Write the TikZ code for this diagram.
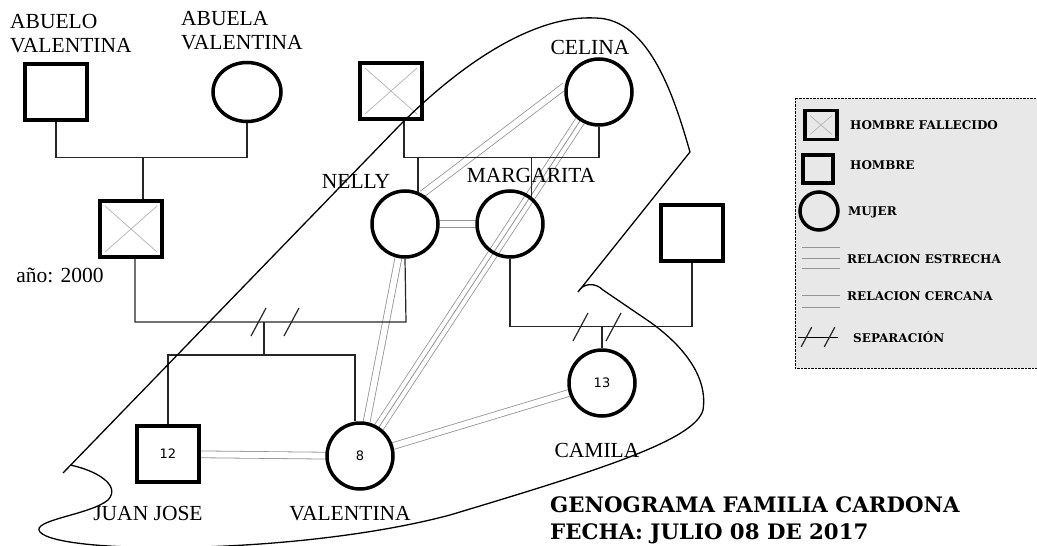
\documentclass[tikz,border=0pt]{standalone}
\usepackage{fontspec}
\setmainfont{Liberation Serif}
\newfontfamily\titulo{DejaVu Serif}
\newfontfamily\cifra{DejaVu Sans}
\usetikzlibrary{shapes.geometric,backgrounds}

\begin{document}
\begin{tikzpicture}[x=1pt,y=-1pt,
	hombre/.style={draw,rectangle,line width=3.5pt,inner sep=0,minimum width=62pt,minimum height=56pt},
	fallecido/.style={hombre,path picture={\draw[gray!55,line width=0.8pt] ([shift={(5pt,-5pt)}]path picture bounding box.north west) -- ([shift={(-5pt,5pt)}]path picture bounding box.south east) ([shift={(-5pt,-5pt)}]path picture bounding box.north east) -- ([shift={(5pt,5pt)}]path picture bounding box.south west);}},
	mujer/.style={draw,circle,line width=3.5pt,inner sep=0,minimum size=66pt},
	linea/.style={line width=1.2pt,black!85},
	gris/.style={draw=gray!85,line width=0.8pt},
	cercana/.style={gris,double=white,double distance=6pt},
	estrecha/.style={gris,double=white,double distance=9pt},
	nombre/.style={font=\fontsize{21.5}{24}\selectfont,inner sep=0},
	leyenda/.style={font=\titulo\bfseries\fontsize{12}{14}\selectfont,inner sep=0,anchor=west},
	sepmark/.pic={\draw[linea] (-24,14) -- (-9,-14); \draw[linea] (9,14) -- (24,-14);}]
	\useasboundingbox (0,0) rectangle (1037,546);
	\node[hombre] (1) at (56,92) {};
	\node[draw,ellipse,line width=3.5pt,inner sep=0,minimum width=68pt,minimum height=59pt] (2) at (247,92) {};
	\node[fallecido] (3) at (131,229) {};
	\node[fallecido] (4) at (391,91) {};
	\node[mujer] (5) at (599,92) {};
	\node[mujer] (6) at (405,224) {};
	\node[mujer] (7) at (510,224) {};
	\node[hombre] (8) at (692,233) {};
	\node[hombre] (9) at (168,454) {\cifra\fontsize{13}{15}\selectfont 12};
	\node[mujer] (10) at (360,456) {\cifra\fontsize{13}{15}\selectfont 8};
	\node[mujer] (11) at (602,383) {\cifra\fontsize{13}{15}\selectfont 13};
	\node[nombre,align=left,anchor=north west] (t1) at (10,14) {ABUELO\\VALENTINA};
	\node[nombre,align=left,anchor=north west] (t2) at (181,11) {ABUELA\\VALENTINA};
	\node[nombre] (t3) at (60,275) {año: 2000};
	\node[nombre] (t4) at (590,47) {CELINA};
	\node[nombre] (t5) at (356,181) {NELLY};
	\node[nombre] (t6) at (531,175) {MARGARITA};
	\node[nombre,anchor=base] (t7) at (148,520) {JUAN JOSE};
	\node[nombre,anchor=base] (t8) at (350,520) {VALENTINA};
	\node[nombre] (t9) at (597,450) {CAMILA};
	\draw[linea] (1.south) -- ++(0,36) -| (2.south);
	\draw[linea] ([xshift=12pt]3.north) -- ++(0,-42);
	\coordinate (p1) at (406,322);
	\coordinate (p2) at (264,322);
	\coordinate (p3) at (264,355);
	\draw[linea] ([xshift=4pt]3.south) |- (p1) -- (6.south);
	\draw[linea] (p2) -- (p3);
	\draw[linea] (9.north) |- (p3) -| ([xshift=-5pt]10.north);
	\pic at (275,322) {sepmark};
	\draw[linea] ([xshift=13pt]4.south) -- ++(0,37) -| (5.south);
	\draw[linea] (6.68) -- ++(0,-34);
	\draw[linea] (7.51) -- ++(0,-39);
	\draw[linea] (7.south) -- ++(0,68) -| (8.south);
	\draw[linea] (11.north) -- ++(0,-21);
	\pic at (597,327) {sepmark};
	\begin{scope}[on background layer]
		\draw[cercana] (9) -- (10);
		\draw[cercana] (6) -- (7);
		\draw[cercana] (5.170) -- (6.60);
		\draw[cercana] (10) -- (6);
		\draw[estrecha] (10) -- (5);
		\draw[gris] (10) -- (5);
		\draw[cercana] (10) -- (11);
	\end{scope}
	\draw[line width=1.3pt] (63,473) -- (400,125) .. controls (470,55) and (540,15) .. (595,18) .. controls (650,18) and (675,100) .. (690,152) -- (578,292) .. controls (583,283) and (595,282) .. (603,290) -- (650,322) .. controls (685,347) and (708,378) .. (703,410) .. controls (695,440) and (600,470) .. (450,515) .. controls (300,555) and (60,555) .. (40,532) .. controls (30,520) and (90,515) .. (108,500) .. controls (122,485) and (95,470) .. (70,465);
	\draw[densely dotted,fill=gray!18] (795,98) rectangle (1045,368);
	\node[fallecido,minimum width=32pt,minimum height=29pt] (l1) at (821,125) {};
	\node[hombre,minimum width=30pt,minimum height=28pt] (l2) at (818,169) {};
	\node[mujer,minimum size=38pt] (l3) at (819,211) {};
	\foreach \y in {247,258,268} \draw[gris] (802,\y) -- (840,\y);
	\foreach \y in {295,307} \draw[gris] (802,\y) -- (840,\y);
	\draw[line width=1pt] (798,337) -- (838,337);
	\pic[scale=0.7] at (818,337) {sepmark};
	\node[leyenda] (lt1) at (850,125) {HOMBRE FALLECIDO};
	\node[leyenda] (lt2) at (850,165) {HOMBRE};
	\node[leyenda] (lt3) at (848,212) {MUJER};
	\node[leyenda] (lt4) at (847,259) {RELACION ESTRECHA};
	\node[leyenda] (lt5) at (847,296) {RELACION CERCANA};
	\node[leyenda] (lt6) at (853,337) {SEPARACIÓN};
	\node[font=\titulo\bfseries\fontsize{21.3}{24}\selectfont,inner sep=0,anchor=west] (tt1) at (550,505) {GENOGRAMA FAMILIA CARDONA};
	\node[font=\titulo\bfseries\fontsize{21.3}{24}\selectfont,inner sep=0,anchor=west] (tt2) at (550,534) {FECHA: JULIO 08 DE 2017};
\end{tikzpicture}
\end{document}
